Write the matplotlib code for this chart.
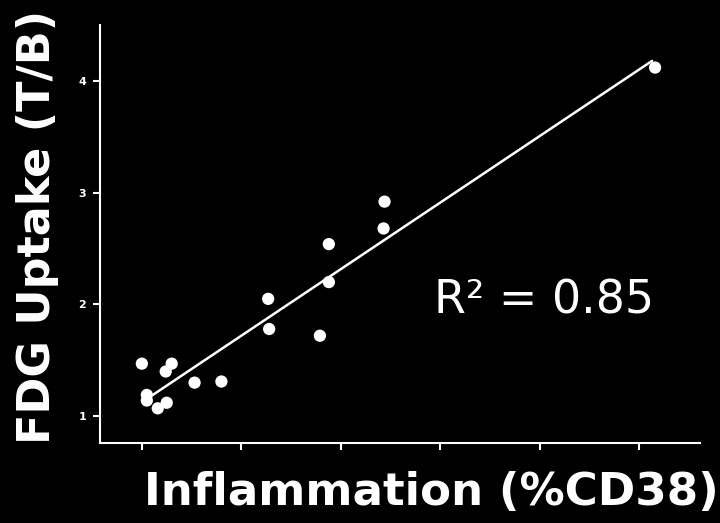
import matplotlib
matplotlib.use("Agg")
import matplotlib.pyplot as plt

# values
cd38 = [0.0, 0.5, 0.5, 1.6, 2.5, 2.4, 3.0, 5.3, 8.0, 12.7, 12.8, 17.9, 18.8, 18.8, 24.4, 24.3, 51.6]
uptake = [1.47, 1.19, 1.14, 1.07, 1.12, 1.40, 1.47, 1.30, 1.31, 2.05, 1.78, 1.72, 2.54, 2.20, 2.92, 2.68, 4.12]

# regression line endpoints
fit_x = [1.1, 51.3]
fit_y = [1.19, 4.18]

x_ticks = [0, 10, 20, 30, 40, 50]
y_ticks = [1, 2, 3, 4]

fig = plt.figure(figsize=(7.2, 5.23), dpi=100, facecolor='black')
ax = fig.add_axes([0.139, 0.153, 0.833, 0.799], facecolor='black')

ax.plot(fit_x, fit_y, color='white', lw=1.8, solid_capstyle='round', zorder=2)
ax.scatter(cd38, uptake, s=78, color='white', edgecolors='none', zorder=3)

ax.set_xlim(-4.2, 56.1)
ax.set_ylim(0.76, 4.5)
ax.set_xticks(x_ticks)
ax.set_xticklabels([])
ax.set_yticks(y_ticks)
ax.set_yticklabels([str(t) for t in y_ticks], fontsize=8, fontweight='bold', color='white')

for side in ['top', 'right']:
    ax.spines[side].set_visible(False)
for side in ['left', 'bottom']:
    ax.spines[side].set_color('white')
    ax.spines[side].set_linewidth(1.5)
ax.tick_params(colors='white', width=1.5, length=5, direction='out', pad=5)

ax.text(0.556, 0.31, 'R² = 0.85', transform=ax.transAxes, fontsize=33,
        color='white', family='DejaVu Sans')

fig.text(0.599, 0.017, 'Inflammation (%CD38)', fontsize=32.5, fontweight='bold',
         color='white', ha='center', va='bottom')
fig.text(0.052, 0.567, 'FDG Uptake (T/B)', fontsize=32, fontweight='bold',
         color='white', ha='center', va='center', rotation=90)

fig.savefig('out.png', dpi=100, facecolor='black')
